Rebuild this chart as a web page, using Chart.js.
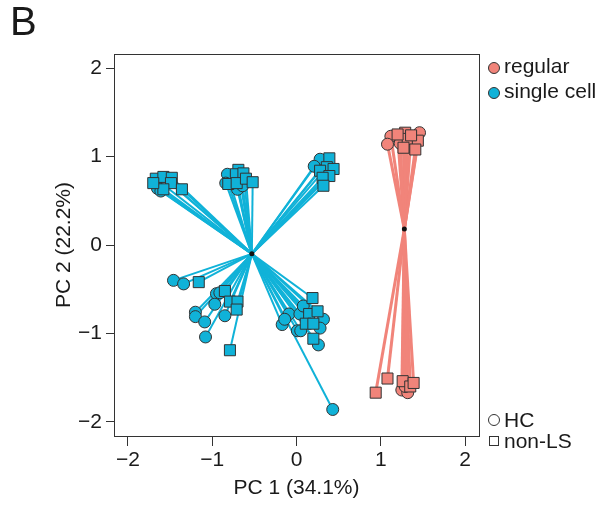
<!DOCTYPE html>
<html><head><meta charset="utf-8">
<script src="https://cdn.jsdelivr.net/npm/chart.js@4/dist/chart.umd.min.js"></script>
<style>
body{margin:0;background:#fff;}
#wrap{position:relative;width:603px;height:508px;overflow:hidden;}
canvas{position:absolute;left:0;top:0;}
.t{position:absolute;font-family:"Liberation Sans",Arial,sans-serif;color:#1a1a1a;white-space:nowrap;line-height:1;}
.m{position:absolute;box-sizing:border-box;border:1px solid #333;}
</style></head><body>
<div id="wrap"><canvas id="c" width="603" height="508"></canvas>
<div class="t" style="left:10px;top:1px;font-size:40px;">B</div>
<div class="m" style="left:488px;top:62px;width:12px;height:12px;border-radius:50%;background:#F1847A;"></div>
<div class="t" style="left:504px;top:55px;font-size:21px;">regular</div>
<div class="m" style="left:488px;top:87px;width:12px;height:12px;border-radius:50%;background:#10B2D8;"></div>
<div class="t" style="left:504px;top:80px;font-size:21px;">single cell</div>
<div class="m" style="left:488px;top:414px;width:12px;height:12px;border-radius:50%;background:#fff;"></div>
<div class="t" style="left:504px;top:409px;font-size:21px;">HC</div>
<div class="m" style="left:489px;top:436px;width:10px;height:10px;background:#fff;"></div>
<div class="t" style="left:504px;top:430px;font-size:21px;">non-LS</div>
</div>
<script>
// Axis ticks
const xTicks = [-2, -1, 0, 1, 2];
const yTicks = [-2, -1, 0, 1, 2];

// Group centroids
const regularCentroid = {x: 1.28, y: 0.18};
const singleCentroid = {x: -0.53, y: -0.10};

// regular samples
const regularHC = [
  {x:1.12,y:1.23},{x:1.08,y:1.14},{x:1.46,y:1.27},{x:1.23,y:1.15},
  {x:1.25,y:-1.64},{x:1.32,y:-1.67},{x:1.29,y:-1.60}
];
const regularNonLS = [
  {x:1.29,y:1.27},{x:1.32,y:1.20},{x:1.44,y:1.18},{x:1.41,y:1.08},{x:1.27,y:1.10},{x:1.36,y:1.24},{x:1.20,y:1.25},
  {x:0.94,y:-1.67},{x:1.08,y:-1.51},{x:1.26,y:-1.54},{x:1.35,y:-1.60},{x:1.39,y:-1.56}
];

// single cell samples
const singleHC = [
  {x:-1.65,y:0.64},{x:-1.61,y:0.61},
  {x:-0.82,y:0.80},{x:-0.70,y:0.63},{x:-0.84,y:0.70},{x:-0.64,y:0.67},
  {x:0.28,y:0.97},{x:0.21,y:0.89},
  {x:-1.46,y:-0.40},{x:-1.34,y:-0.44},{x:-0.95,y:-0.55},{x:-0.91,y:-0.54},{x:-0.97,y:-0.67},
  {x:-0.85,y:-0.80},{x:-1.20,y:-0.76},{x:-1.20,y:-0.81},{x:-1.09,y:-0.87},{x:-1.08,y:-1.04},
  {x:-0.09,y:-0.78},{x:-0.17,y:-0.90},{x:0.04,y:-0.78},{x:0.01,y:-0.97},{x:0.05,y:-0.97},
  {x:0.26,y:-1.13},{x:0.32,y:-0.84},{x:0.28,y:-0.94},{x:0.08,y:-0.69},{x:-0.14,y:-0.84},
  {x:0.43,y:-1.86}
];
const singleNonLS = [
  {x:-1.67,y:0.75},{x:-1.58,y:0.77},{x:-1.48,y:0.76},{x:-1.49,y:0.70},{x:-1.58,y:0.63},{x:-1.36,y:0.63},{x:-1.70,y:0.70},
  {x:-0.69,y:0.85},{x:-0.72,y:0.80},{x:-0.63,y:0.81},{x:-0.81,y:0.69},{x:-0.71,y:0.70},{x:-0.60,y:0.75},{x:-0.52,y:0.71},
  {x:0.39,y:0.98},{x:0.36,y:0.88},{x:0.44,y:0.86},{x:0.28,y:0.84},{x:0.39,y:0.78},{x:0.31,y:0.76},{x:0.32,y:0.67},
  {x:-1.16,y:-0.42},{x:-0.85,y:-0.52},{x:-0.79,y:-0.64},{x:-0.70,y:-0.64},{x:-0.71,y:-0.73},{x:-0.79,y:-1.19},
  {x:0.19,y:-0.60},{x:0.15,y:-0.78},{x:0.25,y:-0.75},{x:0.11,y:-0.89},{x:0.20,y:-0.89},{x:0.20,y:-1.06}
];

const colRegular = '#F1847A';
const colSingle = '#10B2D8';
const edge = '#333333';

function spokes(centroid, pts, color, width){
  return pts.map(p => ({
    type:'line', data:[centroid, p], showLine:true, borderColor:color, borderWidth:width,
    pointRadius:0, fill:false, order:5, label:'_seg'
  }));
}

const datasets = [
  ...spokes(regularCentroid, regularHC.concat(regularNonLS), colRegular, 3),
  ...spokes(singleCentroid, singleHC.concat(singleNonLS), colSingle, 2),
  {type:'scatter', label:'regular HC', data:regularHC, pointStyle:'circle', pointRadius:6, backgroundColor:colRegular, borderColor:edge, borderWidth:1, order:2},
  {type:'scatter', label:'regular non-LS', data:regularNonLS, pointStyle:'rect', pointRadius:7.8, backgroundColor:colRegular, borderColor:edge, borderWidth:1, order:1},
  {type:'scatter', label:'single cell HC', data:singleHC, pointStyle:'circle', pointRadius:6, backgroundColor:colSingle, borderColor:edge, borderWidth:1, order:2},
  {type:'scatter', label:'single cell non-LS', data:singleNonLS, pointStyle:'rect', pointRadius:7.8, backgroundColor:colSingle, borderColor:edge, borderWidth:1, order:1},
  {type:'scatter', label:'centroids', data:[regularCentroid, singleCentroid], pointStyle:'circle', pointRadius:2.5, backgroundColor:'#111', borderColor:'#111', borderWidth:0, order:0}
];

const fontFam = '"Liberation Sans", Arial, sans-serif';
const fmt = v => v < 0 ? '\u2212' + Math.abs(v) : String(v);

const boxPlugin = {
  id:'box',
  afterDraw(chart){
    const a = chart.chartArea, ctx = chart.ctx;
    ctx.save();
    ctx.strokeStyle = '#333'; ctx.lineWidth = 1;
    ctx.strokeRect(Math.round(a.left)+0.5, Math.round(a.top)+0.5, Math.round(a.right-a.left), Math.round(a.bottom-a.top));
    ctx.restore();
  }
};

new Chart(document.getElementById('c'), {
  type:'scatter',
  data:{datasets},
  options:{
    responsive:false, animation:false, events:[],
    layout:{padding:{top:54, right:124, left:0, bottom:0}},
    plugins:{legend:{display:false}, tooltip:{enabled:false}},
    scales:{
      x:{
        type:'linear', min:-2.166, max:2.166,
        afterBuildTicks(s){ s.ticks = xTicks.map(v => ({value:v})); },
        afterFit(s){ s.height = 72; },
        ticks:{callback:fmt, color:'#1a1a1a', font:{family:fontFam, size:21}, padding:2, maxRotation:0},
        grid:{drawOnChartArea:false, drawTicks:true, tickLength:10, color:'#333'},
        border:{display:false},
        title:{display:true, text:'PC 1 (34.1%)', color:'#1a1a1a', font:{family:fontFam, size:21}, padding:{top:0,bottom:7}}
      },
      y:{
        type:'linear', min:-2.16, max:2.16,
        afterBuildTicks(s){ s.ticks = yTicks.map(v => ({value:v})); },
        afterFit(s){ s.width = 114; },
        ticks:{callback:fmt, color:'#1a1a1a', font:{family:fontFam, size:21}, padding:4},
        grid:{drawOnChartArea:false, drawTicks:true, tickLength:8, color:'#333'},
        border:{display:false},
        title:{display:true, text:'PC 2 (22.2%)', color:'#1a1a1a', font:{family:fontFam, size:21}, padding:{top:52,bottom:0}}
      }
    }
  },
  plugins:[boxPlugin]
});
</script>
</body></html>
